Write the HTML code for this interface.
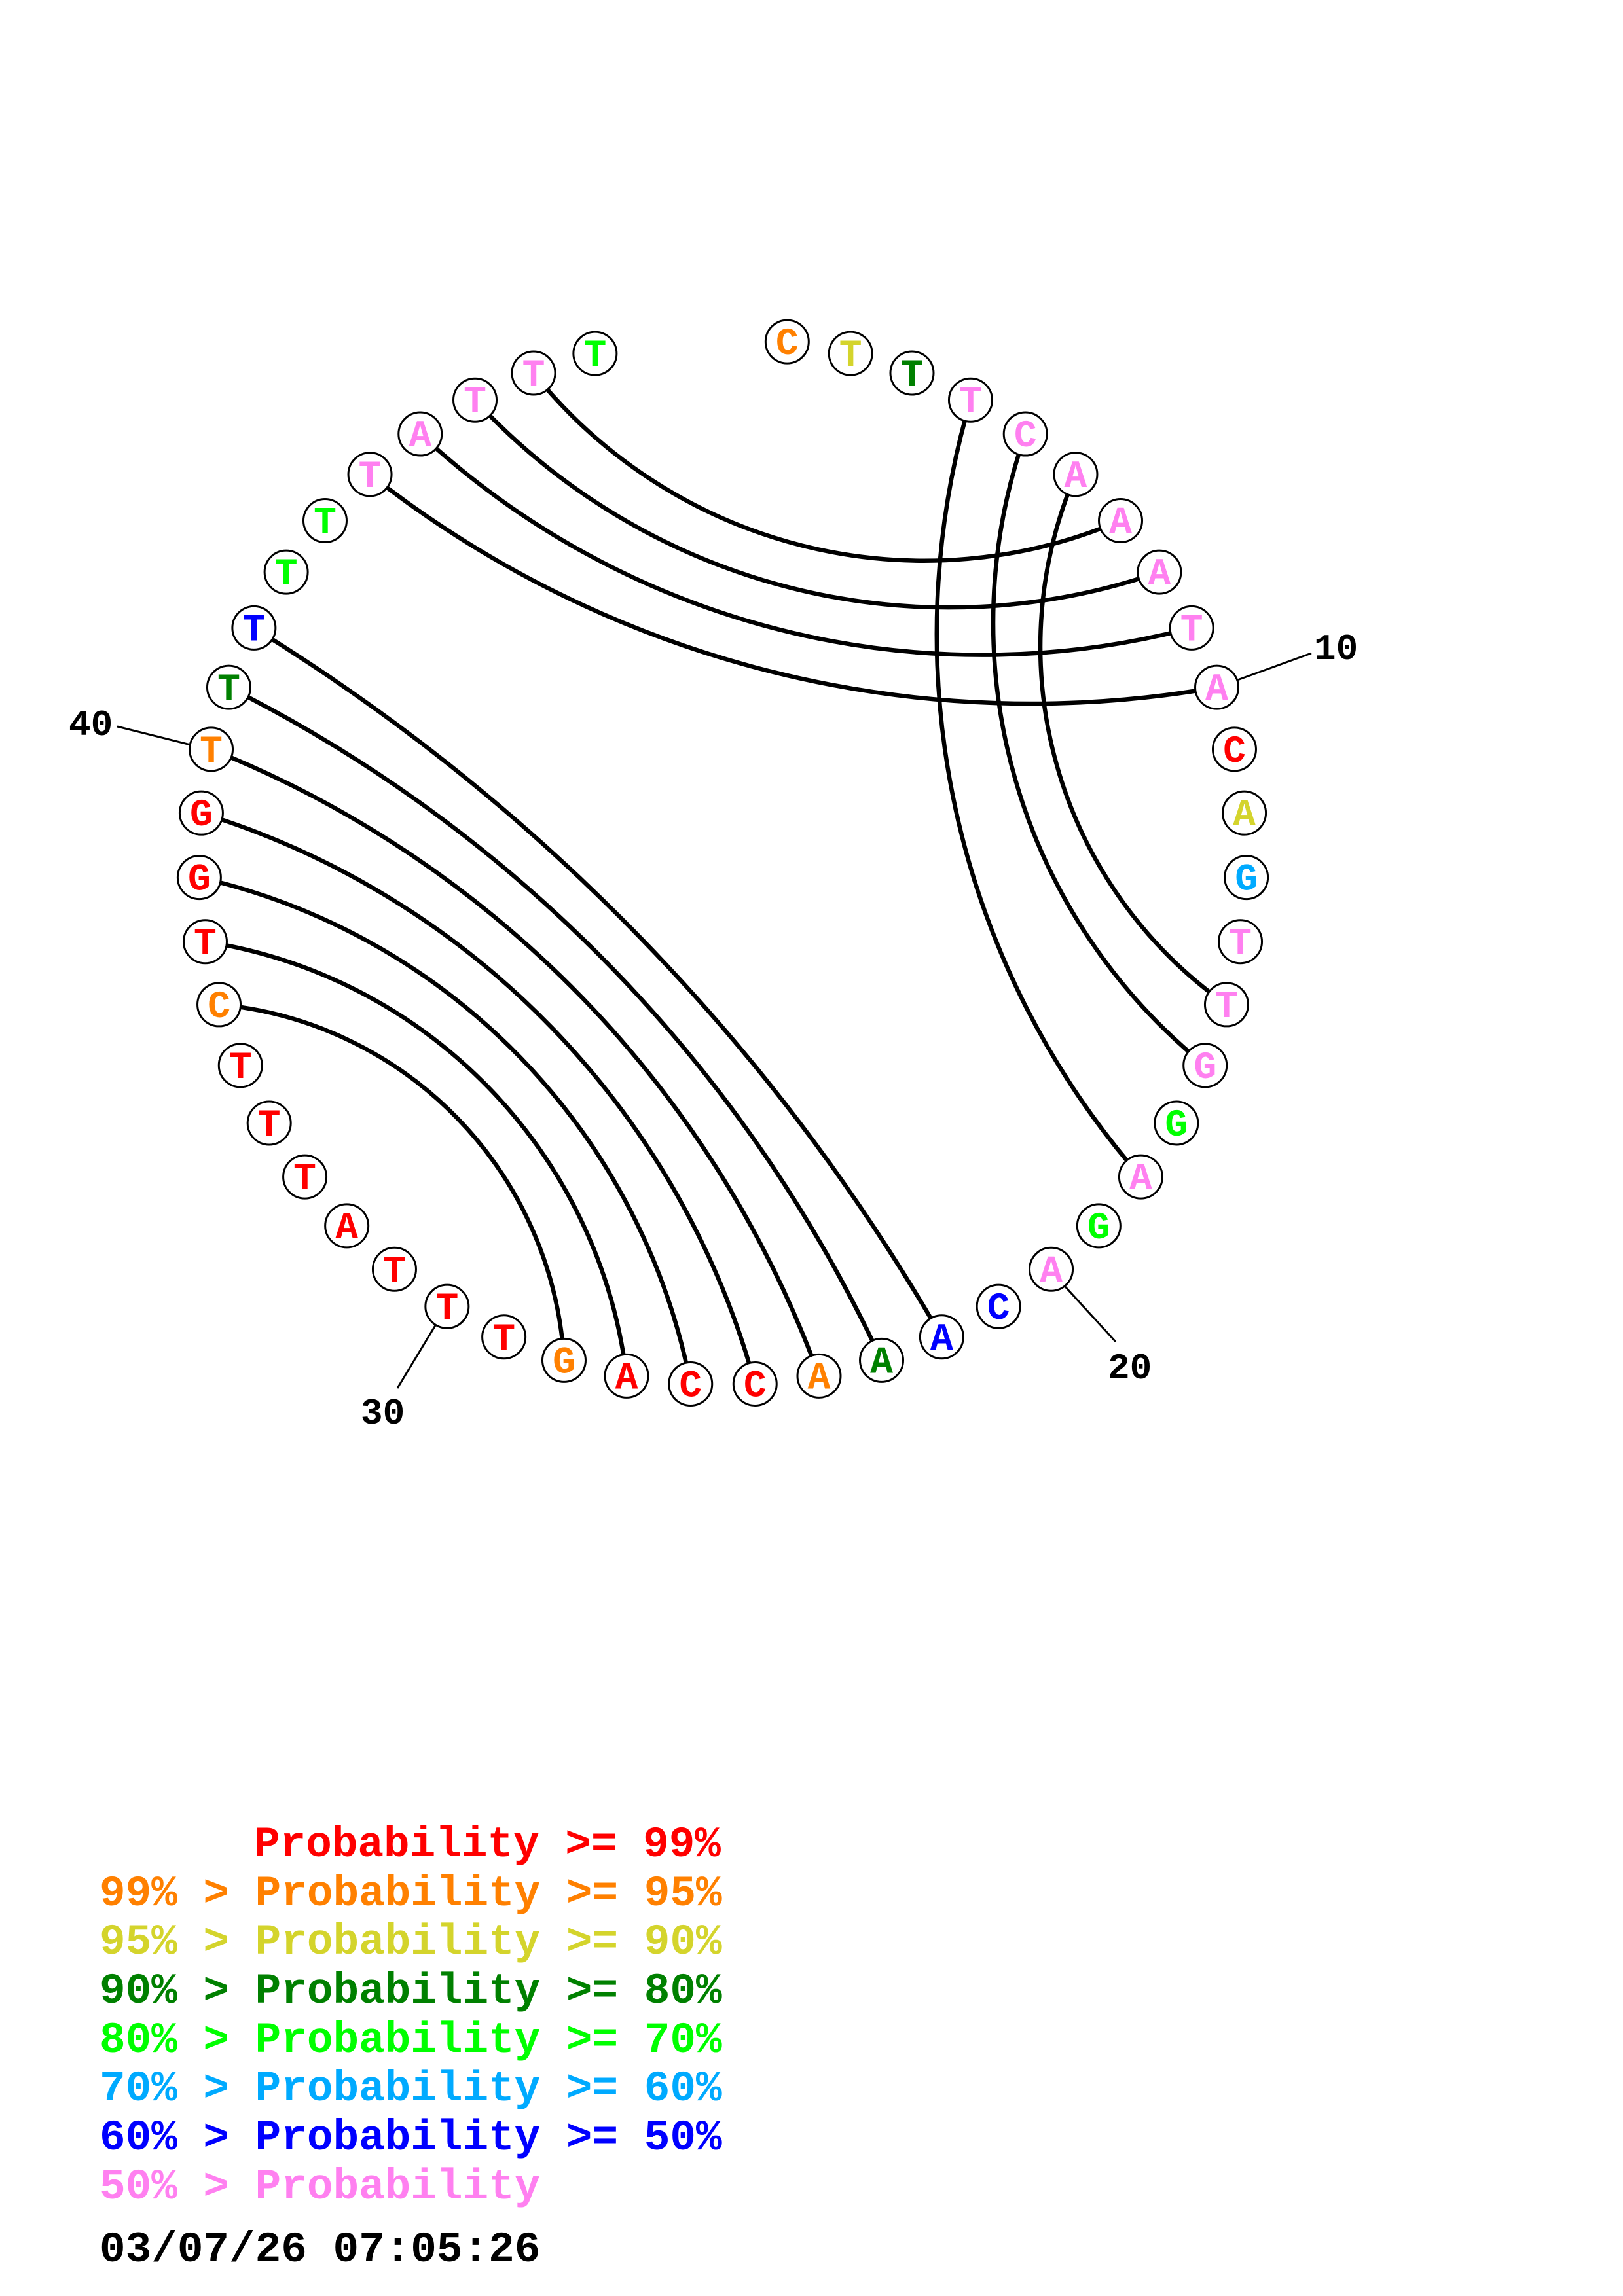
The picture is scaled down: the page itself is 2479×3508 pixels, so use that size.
<!DOCTYPE html>
<html><head><meta charset="utf-8">
<style>
html,body{margin:0;padding:0;background:#fff;}
svg{display:block;}
text{font-family:"Liberation Mono","DejaVu Sans Mono",monospace;font-weight:bold;}
</style></head>
<body>
<svg id="s" width="2479" height="3508" viewBox="0 0 2479 3508" xmlns="http://www.w3.org/2000/svg">
<rect width="2479" height="3508" fill="#fff"/>
<g id="arcs" fill="none" stroke="#000" stroke-width="6.5"></g>
<g id="ticks" stroke="#000" stroke-width="3"></g>
<g id="nodes"></g>
<g font-size="56" fill="#000">
<text x="2007" y="1007">10</text>
<text x="1692" y="2106">20</text>
<text x="551" y="2175">30</text>
<text x="105" y="1123">40</text>
</g>
<g font-size="66">
<text x="388" y="2836" fill="#ff0000" xml:space="preserve">Probability &gt;= 99%</text>
<text x="152" y="2911" fill="#ff8000" xml:space="preserve">99% &gt; Probability &gt;= 95%</text>
<text x="152" y="2985" fill="#d4d42c" xml:space="preserve">95% &gt; Probability &gt;= 90%</text>
<text x="152" y="3060" fill="#008000" xml:space="preserve">90% &gt; Probability &gt;= 80%</text>
<text x="152" y="3135" fill="#00ff00" xml:space="preserve">80% &gt; Probability &gt;= 70%</text>
<text x="152" y="3209" fill="#00aaff" xml:space="preserve">70% &gt; Probability &gt;= 60%</text>
<text x="152" y="3284" fill="#0000ff" xml:space="preserve">60% &gt; Probability &gt;= 50%</text>
<text x="152" y="3359" fill="#ff80f0" xml:space="preserve">50% &gt; Probability</text>
<text x="152" y="3455" fill="#000" xml:space="preserve">03/07/26 07:05:26</text>
</g>
</svg>
<script>
(function(){
var NS="http://www.w3.org/2000/svg";
var cx=1104,cy=1316,R=800,step=360/51,nr=33;
var seq="CTTTCAAATACAGTTGGAGACAAACCAGTTTATTTCTGGTTTTTTATTT";
var O="#ff8000",Y="#d4d42c",D="#008000",P="#ff80f0",Rd="#ff0000",G="#00ff00",S="#00aaff",B="#0000ff";
var col=[O,Y,D,P,P,P,P,P,P,P,Rd,Y,S,P,P,P,G,P,G,P,B,B,D,O,Rd,Rd,Rd,O,Rd,Rd,Rd,Rd,Rd,Rd,Rd,O,Rd,Rd,Rd,O,D,B,G,G,P,P,P,P,G];
function ang(i){return (180+(i-25.5)*step)*Math.PI/180;}
function pos(i,r){var a=ang(i);return [cx+(r||R)*Math.sin(a),cy-(r||R)*Math.cos(a)];}
var pairs=[[4,18],[5,16],[6,15],[7,48],[8,47],[9,46],[10,45],[22,42],[23,41],[24,40],[25,39],[26,38],[27,37],[28,36]];
var ga=document.getElementById("arcs");
pairs.forEach(function(p){
 var a=p[0],b=p[1];
 var sep=Math.abs(b-a); if(sep>25.5) sep=51-sep;
 var d=sep*step*Math.PI/180;
 var rr=1.35*R*Math.tan(d/2);
 var p1=pos(a),p2=pos(b);
 var mx=(p1[0]+p2[0])/2,my=(p1[1]+p2[1])/2;
 var dx=p2[0]-p1[0],dy=p2[1]-p1[1],L=Math.hypot(dx,dy);
 if(rr<L/2) rr=L/2;
 var h=Math.sqrt(Math.max(rr*rr-L*L/4,0));
 var nx=-dy/L,ny=dx/L;
 var best=null;
 [-1,1].forEach(function(sg){
   var ccx=mx+sg*h*nx,ccy=my+sg*h*ny;
   var dist=Math.hypot(ccx-cx,ccy-cy);
   if(best===null||dist>best.dist) best={dist:dist,ccx:ccx,ccy:ccy};
 });
 var cross=dx*(best.ccy-p1[1])-dy*(best.ccx-p1[0]);
 var sweep=cross>0?1:0;
 var path=document.createElementNS(NS,"path");
 path.setAttribute("d","M"+p1[0]+","+p1[1]+" A"+rr+","+rr+" 0 0 "+sweep+" "+p2[0]+","+p2[1]);
 ga.appendChild(path);
});
var gt=document.getElementById("ticks");
[[10,2003,998],[20,1704,2050],[30,607,2121],[40,179,1110]].forEach(function(t){
 var s=pos(t[0],R+nr);
 var l=document.createElementNS(NS,"line");
 l.setAttribute("x1",s[0]);l.setAttribute("y1",s[1]);l.setAttribute("x2",t[1]);l.setAttribute("y2",t[2]);
 gt.appendChild(l);
});
var gn=document.getElementById("nodes");
for(var i=1;i<=49;i++){
 var p=pos(i);
 var c=document.createElementNS(NS,"circle");
 c.setAttribute("cx",p[0]);c.setAttribute("cy",p[1]);c.setAttribute("r",nr);
 c.setAttribute("fill","#fff");c.setAttribute("stroke","#000");c.setAttribute("stroke-width","3");
 gn.appendChild(c);
 var t=document.createElementNS(NS,"text");
 t.setAttribute("x",p[0]);t.setAttribute("y",p[1]+19);
 t.setAttribute("text-anchor","middle");t.setAttribute("font-size","58");
 t.setAttribute("fill",col[i-1]);t.textContent=seq[i-1];
 gn.appendChild(t);
}
})();
</script>
</body></html>
